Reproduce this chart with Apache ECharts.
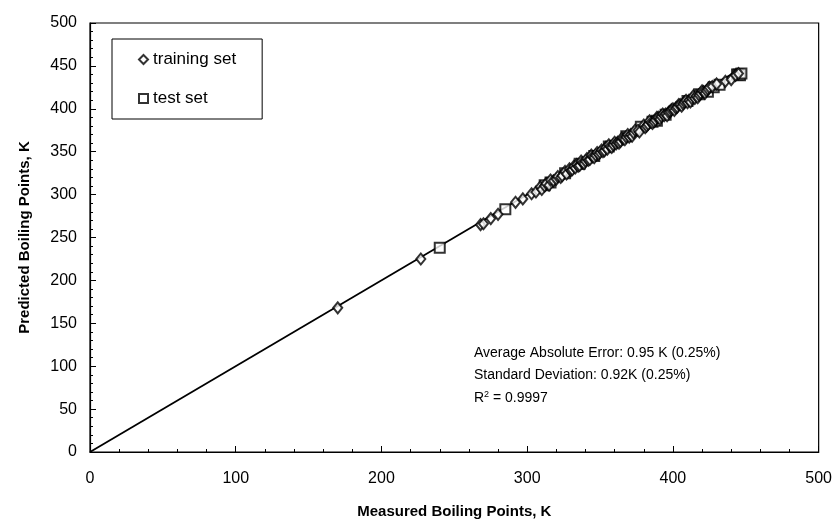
<!DOCTYPE html>
<html>
<head>
<meta charset="utf-8">
<script src="https://cdn.jsdelivr.net/npm/echarts@6/dist/echarts.min.js"></script>
<style>
  html, body { margin: 0; padding: 0; background: #fff; }
  #chart { width: 835px; height: 525px; }
</style>
</head>
<body>
<div id="chart"></div>
<script>
// Measured vs predicted boiling points (K)
const trainingSet = [
  [170, 168], [227, 225], [268, 265], [270, 266], [275, 272], [280, 277],
  [292, 291], [297, 295], [303, 301], [306, 303], [309, 309], [310, 306],
  [312, 310], [313, 313], [315, 311], [316, 317], [318, 316], [320, 318],
  [321, 321], [323, 320], [324, 322], [326, 327], [327, 324], [329, 330],
  [330, 328], [331, 329], [332, 333], [333, 331], [334, 335], [335, 333],
  [336, 334], [337, 339], [338, 337], [339, 336], [340, 339], [341, 342],
  [342, 340], [343, 341], [344, 346], [345, 344], [346, 343], [347, 346],
  [348, 349], [349, 347], [350, 349], [351, 352], [352, 350], [353, 351],
  [354, 355], [355, 353], [356, 358], [357, 356], [358, 355], [359, 358],
  [360, 361], [361, 359], [362, 361], [363, 360], [364, 362], [365, 366],
  [366, 365], [367, 364], [368, 367], [369, 370], [370, 367], [371, 370],
  [372, 368], [373, 372], [374, 375], [376, 375], [377, 373], [380, 381],
  [381, 378], [382, 380], [383, 382], [384, 386], [385, 384], [386, 383],
  [387, 385], [388, 387], [389, 390], [390, 390], [391, 388], [392, 391],
  [393, 394], [394, 392], [395, 394], [396, 392], [397, 396], [398, 397],
  [399, 399], [400, 400], [401, 398], [402, 401], [403, 402], [404, 405],
  [405, 405], [406, 403], [407, 406], [408, 408], [409, 410], [410, 407],
  [411, 410], [412, 408], [413, 412], [414, 415], [415, 412], [416, 415],
  [417, 413], [418, 416], [419, 418], [420, 421], [421, 420], [422, 418],
  [423, 421], [424, 423], [425, 425], [427, 426], [430, 429], [436, 432],
  [440, 434], [443, 439], [445, 441]
];
const testSet = [
  [240, 238], [285, 283], [312, 311], [316, 314], [326, 325], [336, 336],
  [346, 345], [356, 356], [368, 368], [378, 379], [386, 385], [389, 386],
  [395, 393], [410, 409], [418, 417], [424, 420], [428, 425], [432, 428],
  [444, 440], [445, 440], [446, 439], [447, 441]
];
// Parity line (predicted = measured)
const parityLine = [[0, 0], [446, 446]];

const xTicks = { min: 0, max: 500, interval: 100 };
const yTicks = { min: 0, max: 500, interval: 50 };

const statLines = [
  'Average Absolute Error: 0.95 K (0.25%)',
  'Standard Deviation: 0.92K (0.25%)',
  'R{sup|2} = 0.9997'
];

const FONT = '"Liberation Sans", Arial, sans-serif';

const chart = echarts.init(document.getElementById('chart'), null, { renderer: 'canvas' });

const axisCommon = {
  type: 'value',
  axisLine: { show: true, onZero: false, lineStyle: { color: '#000', width: 1.2 } },
  axisTick: { show: true, inside: true, length: 6, lineStyle: { color: '#000' } },
  minorTick: { show: true, splitNumber: 5, length: 3, lineStyle: { color: '#000' } },
  splitLine: { show: false },
  axisLabel: { color: '#000', fontSize: 16, fontFamily: FONT },
  nameLocation: 'middle',
  nameTextStyle: { color: '#000', fontSize: 15, fontWeight: 'bold', fontFamily: FONT }
};

chart.setOption({
  animation: false,
  backgroundColor: '#fff',
  grid: { left: 90, right: 16, top: 23, bottom: 73, show: true, borderColor: '#000', borderWidth: 1.2 },
  xAxis: Object.assign({}, axisCommon, {
    min: xTicks.min, max: xTicks.max, interval: xTicks.interval,
    name: 'Measured Boiling Points, K', nameGap: 52,
    axisLabel: Object.assign({}, axisCommon.axisLabel, { margin: 19 })
  }),
  yAxis: Object.assign({}, axisCommon, {
    min: yTicks.min, max: yTicks.max, interval: yTicks.interval,
    name: 'Predicted Boiling Points, K', nameGap: 58,
    axisLabel: Object.assign({}, axisCommon.axisLabel, { margin: 13 })
  }),
  legend: {
    orient: 'vertical',
    left: 112, top: 39,
    padding: [12, 26, 12, 26],
    itemGap: 22,
    itemWidth: 9, itemHeight: 9,
    borderColor: '#000', borderWidth: 1,
    textStyle: { color: '#000', fontSize: 17, fontFamily: FONT },
    data: [
      { name: 'training set', icon: 'diamond' },
      { name: 'test set', icon: 'rect' }
    ]
  },
  series: [
    {
      name: 'parity',
      type: 'line',
      data: parityLine,
      symbol: 'none',
      lineStyle: { color: '#000', width: 1.8 },
      z: 1,
      silent: true
    },
    {
      name: 'training set',
      type: 'scatter',
      data: trainingSet,
      symbol: 'diamond',
      symbolSize: [9, 11],
      itemStyle: { color: '#fff', borderColor: '#000', borderWidth: 2 },
      z: 3
    },
    {
      name: 'test set',
      type: 'scatter',
      data: testSet,
      symbol: 'rect',
      symbolSize: 10,
      itemStyle: { color: '#fff', borderColor: '#000', borderWidth: 2 },
      z: 2
    }
  ],
  graphic: statLines.map((t, i) => ({
    type: 'text',
    left: 474,
    top: 346 + i * 22,
    style: {
      text: t,
      fill: '#000',
      font: '14px ' + FONT,
      rich: { sup: { fontSize: 9, verticalAlign: 'top', padding: [0, 0, 8, 0], fill: '#000' } }
    }
  }))
});
</script>
</body>
</html>
